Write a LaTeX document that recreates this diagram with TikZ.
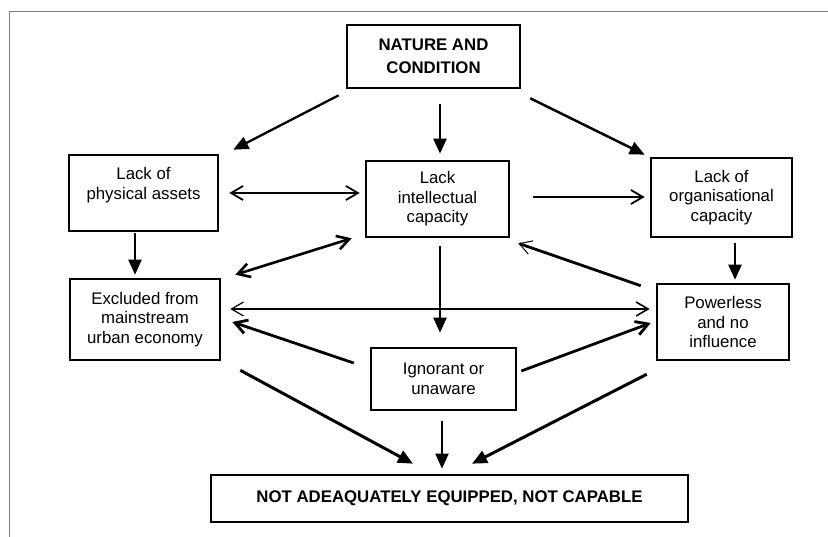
\documentclass[tikz,border=0pt]{standalone}
\usepackage{fontspec}
\setmainfont{Liberation Sans}
\usetikzlibrary{arrows.meta}
\begin{document}
\begin{tikzpicture}[x=1pt,y=-1pt,
  box/.style={draw, line width=2.6pt, align=center, inner sep=2pt, font=\fontsize{16.8}{19.5}\selectfont},
  bbox/.style={box, font=\bfseries\fontsize{16.8}{23}\selectfont},
  fa/.style={-{Triangle[length=15pt,width=13pt]}, line width=2.3pt},
  oa/.style={-{Straight Barb[length=12pt,width=14pt]}, line width=1.8pt},
  ba/.style={{Straight Barb[length=12pt,width=14pt]}-{Straight Barb[length=12pt,width=14pt]}, line width=1.8pt},
  frameline/.style={draw=gray, line width=1pt}]
\useasboundingbox (0,0) rectangle (828,537);
\fill[white] (0,0) rectangle (828,537);
\draw[frameline] (9,537) -- (9,12) -- (828,12);

\node[bbox, minimum width=173pt, minimum height=63pt] (top) at (433.5,56.5) {NATURE AND\\CONDITION};
\node[box, minimum width=149pt, minimum height=76pt] (phys) at (143.5,193) {Lack of\\physical assets\\ \mbox{}};
\node[box, minimum width=143pt, minimum height=76pt] (intel) at (437.5,199) {Lack\\intellectual\\capacity};
\node[box, minimum width=141pt, minimum height=79pt] (org) at (721.5,197.5) {Lack of\\organisational\\capacity};
\node[box, minimum width=150pt, minimum height=81pt] (excl) at (145,319.5) {Excluded from\\mainstream\\urban economy};
\node[box, minimum width=132pt, minimum height=76pt] (power) at (723,322) {Powerless\\and no\\influence};
\node[box, minimum width=145pt, minimum height=62pt] (ign) at (443.5,379) {Ignorant or\\unaware};
\node[bbox, minimum width=477pt, minimum height=47pt] (bot) at (449.5,498.5) {NOT ADEAQUATELY EQUIPPED, NOT CAPABLE};

% from top box
\draw[fa] ([shift={(-7,6)}]top.south west) -- ([shift={(14,-4)}]phys.north east);
\draw[fa] ([shift={(6.5,15)}]top.south) -- ([shift={(2.5,-6)}]intel.north);
\draw[fa, line width=2.5pt] ([shift={(9,9)}]top.south east) -- ([shift={(-5,-2)}]org.north west);

% second row
\draw[ba] ([shift={(10,0)}]phys.east) -- ([shift={(-5,-6)}]intel.west);
\draw[oa] ([shift={(23,-2)}]intel.east) -- ([shift={(-5,-0.5)}]org.west);
\draw[fa] ([shift={(-8.5,1)}]phys.south) -- ([shift={(-10,-3)}]excl.north);
\draw[ba, line width=2.6pt] ([shift={(-13,0)}]intel.south west) -- ([shift={(14,-3)}]excl.north east);
\draw[fa] ([shift={(13.5,5)}]org.south) -- ([shift={(12,-3)}]power.north);
\draw[-{Straight Barb[length=12pt,width=14pt,line width=1pt]}, line width=2.8pt] ([shift={(-15,3)}]power.north west) -- ([shift={(8,5)}]intel.south east);
\draw[fa] ([shift={(2.5,8)}]intel.south) -- ([shift={(-3.5,-14)}]ign.north);

% third row
\draw[{Straight Barb[length=12pt,width=14pt,line width=1.2pt]}-{Straight Barb[length=12pt,width=14pt]}, line width=1.6pt] ([shift={(9,-10.5)}]excl.east) -- ([shift={(-6,-13)}]power.west);
\draw[oa, line width=2.8pt] ([shift={(-16,-16)}]ign.west) -- ([shift={(11,2.5)}]excl.east);
\draw[oa, line width=2.8pt] ([shift={(4,-8)}]ign.east) -- ([shift={(-5,1)}]power.west);

% to bottom box
\draw[fa, line width=3pt] ([shift={(19,9)}]excl.south east) -- ([shift={(-36.5,-10)}]bot.north);
\draw[fa, line width=1.8pt] ([shift={(-1.5,10)}]ign.south) -- ([shift={(-7.5,-5)}]bot.north);
\draw[fa, line width=3pt] ([shift={(-9,13)}]power.south west) -- ([shift={(22.5,-10)}]bot.north);
\end{tikzpicture}
\end{document}
